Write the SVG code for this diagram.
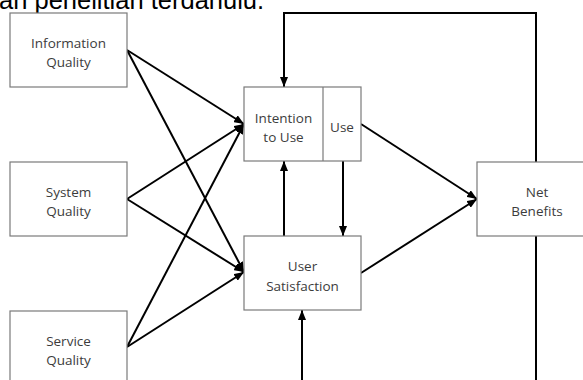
<svg xmlns="http://www.w3.org/2000/svg" width="583" height="380" viewBox="0 0 583 380">
<defs>
<marker id="ah" markerWidth="10" markerHeight="8" refX="10" refY="4" orient="auto" markerUnits="userSpaceOnUse">
<path d="M0,0 L10,4 L0,8 Z" fill="#000"/>
</marker>
<style>
.box{fill:#fff;stroke:#7a7a7a;stroke-width:1.2}
.lbl{font-family:"Open Sans","Noto Sans",sans-serif;font-size:13.5px;fill:#3c3c3c;text-anchor:middle}
.c{fill:none;stroke:#000;stroke-width:2}
.a{marker-end:url(#ah)}
</style>
</defs>
<rect width="583" height="380" fill="#fff"/>
<text x="-1" y="9" font-family="'Liberation Sans',Arial,sans-serif" font-size="25.5" fill="#000">an penelitian terdahulu.</text>
<g id="connectors">
<line class="c a" x1="127" y1="50" x2="244" y2="124"/>
<line class="c a" x1="127" y1="50" x2="244" y2="272"/>
<line class="c a" x1="127" y1="199" x2="244" y2="124"/>
<line class="c a" x1="127" y1="199" x2="244" y2="272"/>
<line class="c a" x1="127" y1="347" x2="244" y2="124"/>
<line class="c a" x1="127" y1="347" x2="244" y2="272"/>
<line class="c a" x1="361" y1="124" x2="477" y2="199"/>
<line class="c a" x1="361" y1="273" x2="477" y2="199"/>
<line class="c a" x1="284" y1="236" x2="284" y2="161"/>
<line class="c a" x1="343" y1="161" x2="343" y2="236"/>
<polyline class="c a" points="536,162 536,13 284,13 284,87"/>
<line class="c" x1="536" y1="236" x2="536" y2="382"/>
<line class="c a" x1="302" y1="382" x2="302" y2="310"/>
</g>
<g id="info-quality">
<rect class="box" x="10" y="13" width="117" height="74"/>
<text class="lbl" x="68.5" y="48">Information</text>
<text class="lbl" x="68.5" y="67">Quality</text>
</g>
<g id="system-quality">
<rect class="box" x="10" y="162" width="117" height="74"/>
<text class="lbl" x="68.5" y="197">System</text>
<text class="lbl" x="68.5" y="216">Quality</text>
</g>
<g id="service-quality">
<rect class="box" x="10" y="311" width="117" height="80"/>
<text class="lbl" x="68.5" y="346">Service</text>
<text class="lbl" x="68.5" y="365">Quality</text>
</g>
<g id="intention-use">
<rect class="box" x="244" y="87" width="117" height="74"/>
<line x1="323" y1="87" x2="323" y2="161" stroke="#7a7a7a" stroke-width="1.2"/>
<text class="lbl" x="283.5" y="123">Intention</text>
<text class="lbl" x="283.5" y="142">to Use</text>
<text class="lbl" x="342" y="132">Use</text>
</g>
<g id="user-satisfaction">
<rect class="box" x="244" y="236" width="117" height="74"/>
<text class="lbl" x="302.5" y="271">User</text>
<text class="lbl" x="302.5" y="291">Satisfaction</text>
</g>
<g id="net-benefits">
<rect class="box" x="477" y="162" width="117" height="74"/>
<text class="lbl" x="537" y="197">Net</text>
<text class="lbl" x="537" y="216">Benefits</text>
</g>
</svg>
